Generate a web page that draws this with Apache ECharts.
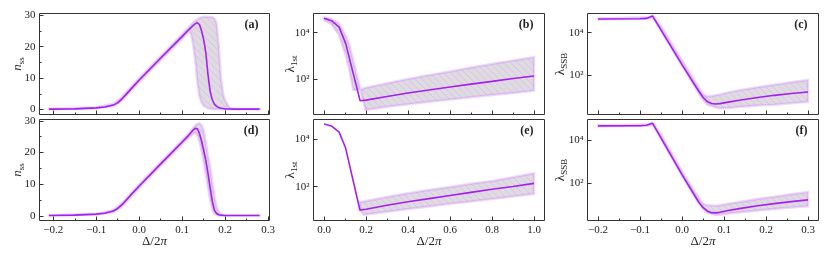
<!DOCTYPE html>
<html><head><meta charset="utf-8">
<script src="https://cdn.jsdelivr.net/npm/echarts@6/dist/echarts.min.js"></script>
<style>html,body{margin:0;padding:0;background:#fff}#c{width:830px;height:260px}</style>
</head><body><div id="c"></div>
<script>
// ---------- data ----------
// (a) n_ss
const xA = [-0.21,-0.15,-0.1,-0.08,-0.06,-0.05,-0.04,-0.03,-0.02,0,0.05,0.1,0.115,0.125,0.13,0.135,0.14,0.145,0.15,0.155,0.16,0.165,0.17,0.175,0.18,0.185,0.19,0.195,0.2,0.21,0.22,0.25,0.28];
const nA = [0.1,0.2,0.5,0.8,1.4,2.1,3.4,4.9,6.4,9.4,16.4,23.3,25.4,26.7,27.3,27.7,27.1,25.1,22.2,18.0,11.0,5.7,3.1,1.6,1.0,0.6,0.4,0.3,0.2,0.15,0.1,0.1,0.1];
const bandXA = [-0.21,-0.1,-0.06,-0.04,0,0.05,0.1,0.115,0.12,0.125,0.13,0.135,0.14,0.145,0.15,0.16,0.17,0.175,0.18,0.185,0.19,0.195,0.2,0.21,0.22,0.28];
const bandHiA = [0.2,0.7,1.8,4.0,10.0,17.0,24.0,26.2,26.9,27.6,28.2,28.7,29.1,29.4,29.6,29.6,29.4,29.0,27.5,20.0,10.0,5.0,2.7,0.6,0.25,0.15];
const bandLoA = [0.05,0.4,1.1,3.0,8.8,15.8,22.6,24.9,24.3,21.0,16.0,9.0,4.2,2.2,1.2,0.4,0.15,0.1,0.08,0.06,0.05,0.05,0.05,0.05,0.05,0.05];
// (b) lambda_1st
const xB = [0,0.035,0.072,0.103,0.172,0.2,0.3,0.4,0.5,0.6,0.7,0.8,0.9,1.0];
const lB = [41700,33100,17400,3470,11.5,12.3,17.8,25.1,33.9,45.7,60.3,79.4,105,135];
const bandXB = [0,0.035,0.07,0.105,0.12,0.14,0.155,0.173,0.198,0.3,0.4,0.5,0.6,0.7,0.8,0.9,1.0];
const bandHiB = [45700,39800,25100,6920,3160,575,158,35.5,41.7,66.1,100,148,214,316,447,631,871];
const bandLoB = [35500,23400,8510,977,275,33.1,33.9,35.5,4.57,6.31,8.13,10.5,13.2,16.2,20.4,25.1,31.6];
// (c) lambda_SSB
const xC = [-0.2,-0.1,-0.085,-0.07,0,0.04,0.05,0.06,0.07,0.08,0.09,0.11,0.14,0.18,0.22,0.26,0.3];
const lC = [43600,44700,46800,60300,316,17.8,9.33,5.89,4.79,4.47,4.68,5.5,6.92,9.12,11.5,14.1,16.6];
const bandXC = [-0.2,-0.08,-0.07,-0.05,0,0.03,0.05,0.06,0.08,0.09,0.11,0.14,0.18,0.22,0.26,0.3];
const bandHiC = [45700,52500,63100,19950,501,56.2,12.6,10,11.5,12.6,15.8,20.4,27.5,36.3,46.8,60.3];
const bandLoC = [41700,45700,55000,12600,282,30.2,7.08,4.17,3.16,2.88,2.95,3.39,3.8,4.17,4.9,5.75];
// (d) n_ss
const xD = [-0.21,-0.15,-0.1,-0.08,-0.06,-0.05,-0.04,-0.03,-0.02,0,0.05,0.1,0.115,0.125,0.13,0.135,0.14,0.145,0.15,0.155,0.16,0.165,0.17,0.175,0.18,0.185,0.19,0.2,0.21,0.28];
const nD = [0.1,0.2,0.5,0.8,1.5,2.3,3.5,5.0,6.5,9.4,16.4,23.3,25.4,27.0,27.6,27.5,26.0,23.6,20.6,17.4,13.3,8.8,4.6,1.7,0.7,0.3,0.2,0.1,0.1,0.1];
const bandXD = [-0.21,-0.1,-0.06,-0.04,0,0.05,0.1,0.115,0.125,0.13,0.135,0.14,0.145,0.15,0.155,0.16,0.165,0.17,0.175,0.18,0.185,0.19,0.2,0.28];
const bandHiD = [0.15,0.6,1.8,4.0,9.9,16.9,23.9,26.0,27.6,28.4,29.0,29.2,28.6,26.8,23.0,19.0,15.0,10.5,6.0,2.8,1.1,0.4,0.15,0.1];
const bandLoD = [0.05,0.4,1.2,3.0,8.9,15.9,22.7,24.7,25.9,26.2,25.5,23.5,20.5,17.0,13.0,9.0,5.0,2.0,0.7,0.25,0.1,0.05,0.05,0.05];
// (e) lambda_1st
const xE = [0,0.035,0.072,0.103,0.171,0.2,0.3,0.4,0.5,0.6,0.7,0.8,0.9,1.0];
const lE = [42700,35500,19500,4170,10.5,11.2,16.6,23.4,31.6,42.7,57.5,77.6,102,138];
const bandXE = [0.171,0.19,0.3,0.4,0.5,0.6,0.7,0.8,0.9,1.0];
const bandHiE = [22.4,24,37.2,52.5,72.4,97.7,132,174,251,363];
const bandLoE = [10,6.61,8.91,11.5,14.8,19.1,24,30.2,38.9,50.1];
// (f) lambda_SSB
const xF = [-0.2,-0.1,-0.085,-0.07,0,0.04,0.05,0.06,0.07,0.08,0.09,0.11,0.14,0.18,0.22,0.26,0.3];
const lF = [44700,45700,47900,58900,251,13.2,7.59,5.25,4.37,4.27,4.57,5.5,6.92,9.12,11.5,14.1,17];
const bandXF = [-0.2,-0.08,-0.07,-0.05,0,0.03,0.05,0.06,0.08,0.09,0.11,0.14,0.18,0.22,0.26,0.3];
const bandHiF = [46800,52500,63100,17800,355,39.8,11.2,9.55,9.12,9.55,11.2,14.1,18.6,24,30.9,39.8];
const bandLoF = [42700,45700,55000,12000,224,22.9,6.31,4.27,3.55,3.55,3.98,4.57,5.5,6.46,7.59,8.71];
// ticks
const xTicksN = [-0.2,-0.1,0,0.1,0.2,0.3];
const xMinorN = [-0.15,-0.05,0.05,0.15,0.25];
const xTicksL = [0,0.2,0.4,0.6,0.8,1.0];
const xMinorL = [0.1,0.3,0.5,0.7,0.9];
const yTicksN = [0,10,20,30];
const yMinorN = [5,15,25];
const yTicksLog = [100,10000];
const panelLabels = ['(a)','(b)','(c)','(d)','(e)','(f)'];

// ---------- style ----------
const SERIF = '"Liberation Serif","DejaVu Serif",serif';
const INK = '#333';
const TXT = '#222';
const LINE = '#a41ff2';

function hatchCanvas(){
  const s = 7, c = document.createElement('canvas');
  c.width = s; c.height = s;
  const g = c.getContext('2d');
  g.fillStyle = '#dddddd'; g.fillRect(0,0,s,s);
  g.strokeStyle = '#e8b8ff'; g.lineWidth = 1;
  g.beginPath();
  g.moveTo(-1,-1); g.lineTo(s+1,s+1);
  g.moveTo(-1,s-1); g.lineTo(1,s+1);
  g.moveTo(s-1,-1); g.lineTo(s+1,1);
  g.stroke();
  return c;
}
const pattern = {image: hatchCanvas(), repeat: 'repeat'};

const SUP = {'2':'\u00b2','4':'\u2074'};
const fmtX = v => (Math.abs(v) < 1e-9 ? 0 : v).toFixed(1).replace('-', '\u2212');
const fmtLog = v => '10' + SUP[String(Math.round(Math.log10(v)))];

const rich = {
  i:{fontFamily:SERIF, fontStyle:'italic', fontSize:13, lineHeight:13, verticalAlign:'top', color:TXT},
  u:{fontFamily:SERIF, fontSize:13, lineHeight:13, verticalAlign:'top', color:TXT},
  s:{fontFamily:SERIF, fontSize:9, lineHeight:9, padding:[6,0,0,0], verticalAlign:'top', color:TXT}
};

const TOP1 = 13.5, TOP2 = 119.5, H = 101;
const panels = [
  {g:{left:39.5, top:TOP1, width:230, height:H}, x:[-0.232,0.303], xt:xTicksN, xm:xMinorN, log:false, y:[-1.6,30.6], lx:xA, ly:nA, bx:bandXA, lo:bandLoA, hi:bandHiA, bottom:false, yname:'{i|n}{s|ss}', gap:15},
  {g:{left:313.5, top:TOP1, width:231, height:H}, x:[-0.05,1.05], xt:xTicksL, xm:xMinorL, log:true, y:[2.95,67600], lx:xB, ly:lB, bx:bandXB, lo:bandLoB, hi:bandHiB, bottom:false, yname:'{u|λ}{s|1st}', gap:16},
  {g:{left:587.5, top:TOP1, width:231, height:H}, x:[-0.225,0.325], xt:xTicksN, xm:xMinorN, log:true, y:[1.45,79400], lx:xC, ly:lC, bx:bandXC, lo:bandLoC, hi:bandHiC, bottom:false, yname:'{u|λ}{s|SSB}', gap:20},
  {g:{left:39.5, top:TOP2, width:230, height:H}, x:[-0.232,0.303], xt:xTicksN, xm:xMinorN, log:false, y:[-1.5,30.4], lx:xD, ly:nD, bx:bandXD, lo:bandLoD, hi:bandHiD, bottom:true, yname:'{i|n}{s|ss}', gap:15},
  {g:{left:313.5, top:TOP2, width:231, height:H}, x:[-0.05,1.05], xt:xTicksL, xm:xMinorL, log:true, y:[3.8,66000], lx:xE, ly:lE, bx:bandXE, lo:bandLoE, hi:bandHiE, bottom:true, yname:'{u|λ}{s|1st}', gap:16},
  {g:{left:587.5, top:TOP2, width:231, height:H}, x:[-0.225,0.325], xt:xTicksN, xm:xMinorN, log:true, y:[1.9,88500], lx:xF, ly:lF, bx:bandXF, lo:bandLoF, hi:bandHiF, bottom:true, yname:'{u|λ}{s|SSB}', gap:20}
];

const grid = [], xAxis = [], yAxis = [], series = [], graphic = [];
const noLine = {show:false, onZero:false};
panels.forEach((p, k) => {
  grid.push(Object.assign({show:true, borderColor:INK, borderWidth:1, backgroundColor:'transparent', containLabel:false, outerBoundsMode:'none'}, p.g));
  xAxis.push({type:'value', gridIndex:k, min:p.x[0], max:p.x[1], position:'bottom',
    axisLine:noLine, splitLine:{show:false},
    axisTick:{show:true, inside:true, length:4, lineStyle:{color:INK, width:1}, customValues:p.xt},
    axisLabel:{show:p.bottom, customValues:p.xt, formatter:fmtX, margin:4, fontFamily:SERIF, fontSize:11, color:TXT},
    name: p.bottom ? '{u|Δ/2}{i|π}' : '', nameLocation:'middle', nameGap:15, nameMoveOverlap:false, nameTextStyle:{rich:rich}});
  xAxis.push({type:'value', gridIndex:k, min:p.x[0], max:p.x[1], position:'bottom',
    axisLine:noLine, splitLine:{show:false},
    axisTick:{show:true, inside:true, length:2, lineStyle:{color:INK, width:1}, customValues:p.xm},
    axisLabel:{show:false}});
  const yMain = {type:p.log?'log':'value', gridIndex:k, min:p.y[0], max:p.y[1], position:'left',
    axisLine:noLine, splitLine:{show:false},
    axisTick:{show:true, inside:true, length:4, lineStyle:{color:INK, width:1}, customValues:p.log?yTicksLog:yTicksN},
    axisLabel:{show:true, customValues:p.log?yTicksLog:yTicksN, formatter:p.log?fmtLog:(v=>String(v)), margin:4, fontFamily:SERIF, fontSize:11, color:TXT},
    name:p.yname, nameLocation:'middle', nameGap:p.gap, nameMoveOverlap:false, nameTextStyle:{rich:rich}};
  if (p.log) yMain.logBase = 10;
  yAxis.push(yMain);
  yAxis.push({type:p.log?'log':'value', gridIndex:k, min:p.y[0], max:p.y[1], position:'left', show:!p.log,
    axisLine:noLine, splitLine:{show:false},
    axisTick:{show:!p.log, inside:true, length:2, lineStyle:{color:INK, width:1}, customValues:p.log?yTicksLog:yMinorN},
    axisLabel:{show:false}});

  const bx = p.bx, lo = p.lo, hi = p.hi;
  series.push({type:'custom', xAxisIndex:2*k, yAxisIndex:2*k, data:[[bx[0], lo[0]]], clip:true, z:1, silent:true,
    renderItem:(params, api) => {
      const pts = [];
      for (let i = 0; i < bx.length; i++) pts.push(api.coord([bx[i], hi[i]]));
      for (let i = bx.length - 1; i >= 0; i--) pts.push(api.coord([bx[i], lo[i]]));
      return {type:'polygon', shape:{points:pts},
        style:{fill:pattern, stroke:'rgba(200,120,255,0.3)', lineWidth:2.5}};
    }});
  series.push({type:'line', xAxisIndex:2*k, yAxisIndex:2*k, data:p.lx.map((x,i)=>[x, p.ly[i]]),
    showSymbol:false, symbol:'none', smooth:false, clip:true, z:3, silent:true,
    lineStyle:{color:LINE, width:1.6}});
  graphic.push({type:'text', silent:true, z:10,
    style:{text:panelLabels[k], x:p.g.left + p.g.width - 11, y:p.g.top + 11, align:'right', verticalAlign:'middle',
      font:'bold 12px ' + SERIF, fill:TXT}});
});

const chart = echarts.init(document.getElementById('c'), null, {renderer:'canvas'});
chart.setOption({animation:false, backgroundColor:'#ffffff', grid, xAxis, yAxis, series, graphic});
</script>
</body></html>
